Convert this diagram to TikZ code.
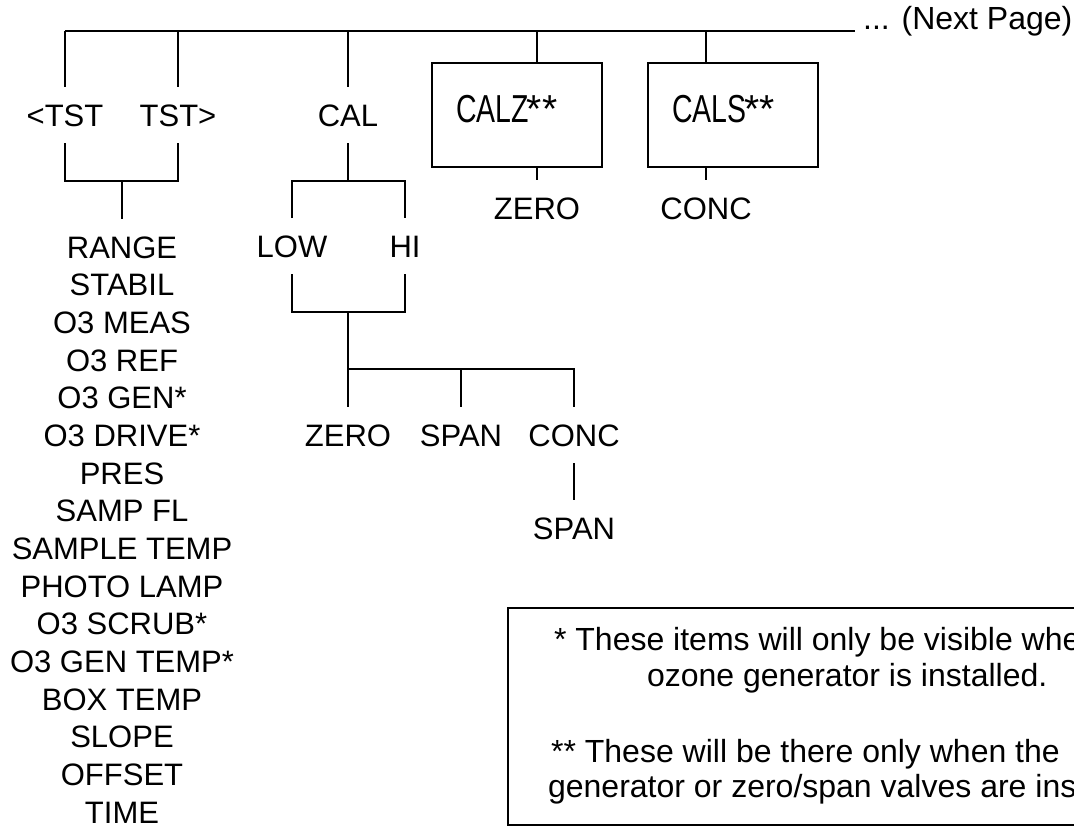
\documentclass[tikz,border=0pt]{standalone}
\usepackage{fontspec}
\setmainfont{Liberation Sans}
\usetikzlibrary{calc}

\begin{document}
\begin{tikzpicture}[x=1pt,y=-1pt,line width=2.2pt,
  lbl/.style={font=\fontsize{31}{37}\selectfont,inner sep=0pt,text height=22pt,text depth=0pt,outer ysep=17pt},
  lst/.style={lbl,outer ysep=0pt},
  boxed/.style={draw,minimum width=170pt,minimum height=104pt,inner sep=0pt},
  boxtxt/.style={font=\fontsize{39}{45}\selectfont,inner sep=0pt,anchor=base west},
  note/.style={font=\fontsize{32}{37}\selectfont,inner sep=0pt,anchor=base west}]
  \useasboundingbox (0,0) rectangle (1074,827);
  % top bar
  \coordinate (bw) at (65,31);
  \coordinate (be) at (855,31);
  \draw (bw) -- (be);
  \node[lbl,font=\fontsize{32}{38}\selectfont,anchor=base west,outer ysep=0pt] (next) at (862,29) {... (Next Page)};
%---------------------------------------------------------------------------
  \node[lbl] (tstl) at (65,115) {<TST};
  \node[lbl] (tstr) at (178,115) {TST>};
  \draw (tstl.north |- bw) -- (tstl.north);
  \draw (tstr.north |- bw) -- (tstr.north);
  \coordinate (jt) at (122,181);
  \draw (tstl.south) |- (jt) -| (tstr.south);
  \node[lbl] (t1) at (122,247) {RANGE};
  \node[lst] (t2) at (122,284.7) {STABIL};
  \node[lst] (t3) at (122,322.3) {O3 MEAS};
  \node[lst] (t4) at (122,360) {O3 REF};
  \node[lst] (t5) at (122,397.7) {O3 GEN*};
  \node[lst] (t6) at (122,435.3) {O3 DRIVE*};
  \node[lst] (t7) at (122,473) {PRES};
  \node[lst] (t8) at (122,510.7) {SAMP FL};
  \node[lst] (t9) at (122,548.3) {SAMPLE TEMP};
  \node[lst] (t10) at (122,586) {PHOTO LAMP};
  \node[lst] (t11) at (122,623.7) {O3 SCRUB*};
  \node[lst] (t12) at (122,661.3) {O3 GEN TEMP*};
  \node[lst] (t13) at (122,699) {BOX TEMP};
  \node[lst] (t14) at (122,736.7) {SLOPE};
  \node[lst] (t15) at (122,774.3) {OFFSET};
  \node[lst] (t16) at (122,812) {TIME};
  \draw (jt) -- (t1.north);
%---------------------------------------------------------------------------
  \node[lbl] (cal) at (348,115) {CAL};
  \draw (cal.north |- bw) -- (cal.north);
  \coordinate (jc) at (348,181);
  \node[lbl] (low) at (292,246) {LOW};
  \node[lbl] (hi) at (405,246) {HI};
  \draw (cal.south) -- (jc);
  \draw (low.north) |- (jc) -| (hi.north);
  \coordinate (jl) at (348,312);
  \draw (low.south) |- (jl) -| (hi.south);
  \coordinate (jm) at (348,369);
  \node[lbl] (zero) at (348,435) {ZERO};
  \node[lbl] (span) at (461,435) {SPAN};
  \node[lbl] (conc) at (574,435) {CONC};
  \draw (jl) -- (zero.north);
  \draw (jm) -| (conc.north);
  \draw (span.north |- jm) -- (span.north);
  \node[lbl] (spanb) at (574,528) {SPAN};
  \draw (conc.south) -- (spanb.north);
%---------------------------------------------------------------------------
  \node[boxed] (calz) at (517,115) {};
  \node[boxtxt] (calzt) at (455,122) {\scalebox{0.73}[1]{CALZ}\kern-2pt**};
  \coordinate (jz) at (537,31);
  \draw (jz) -- (jz |- calz.north);
  \node[lbl] (zeroz) at (537,208) {ZERO};
  \draw (calz.south -| zeroz) -- (zeroz.north);
  \node[boxed] (cals) at (733,115) {};
  \node[boxtxt] (calst) at (671,122) {\scalebox{0.73}[1]{CALS}\kern-2pt**};
  \coordinate (js) at (706,31);
  \draw (js) -- (js |- cals.north);
  \node[lbl] (concs) at (706,208) {CONC};
  \draw (cals.south -| concs) -- (concs.north);
%---------------------------------------------------------------------------
  \draw (1076,608) -| (508,825) -- (1076,825);
  \node[note] (n1) at (553,650) {* These items will only be visible whe};
  \node[note] (n2) at (646,686) {ozone generator is installed.};
  \node[note] (n3) at (550,762) {** These will be there only when the};
  \node[note] (n4) at (547,797) {generator or zero/span valves are ins};
\end{tikzpicture}
\end{document}
